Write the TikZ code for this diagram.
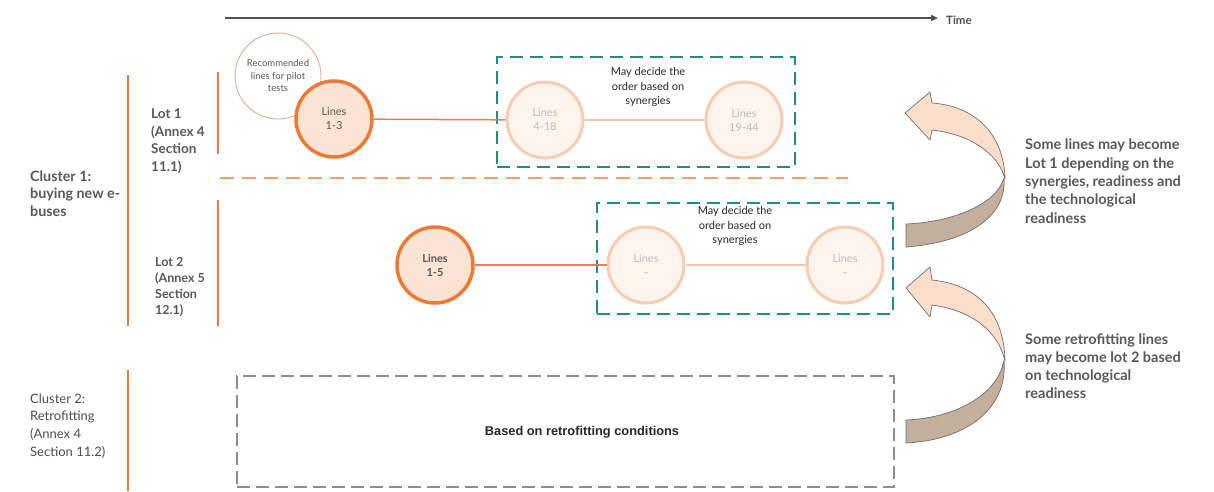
\documentclass[tikz,border=0pt]{standalone}
\usepackage{fontspec}
\setmainfont{Lato}
\newfontfamily\arialfont{Liberation Sans}
\usetikzlibrary{arrows.meta}

\definecolor{orangemain}{RGB}{236,122,54}
\definecolor{orangelink}{RGB}{234,124,86}
\definecolor{orangedash}{RGB}{240,158,108}
\definecolor{peachfill}{RGB}{251,228,212}
\definecolor{softstroke}{RGB}{246,204,178}
\definecolor{softfill}{RGB}{253,244,238}
\definecolor{softtext}{RGB}{188,188,188}
\definecolor{softlink}{RGB}{245,200,172}
\definecolor{recstroke}{RGB}{228,172,144}
\definecolor{tealdash}{RGB}{32,139,139}
\definecolor{greydash}{RGB}{140,140,140}
\definecolor{labelgrey}{RGB}{88,88,88}
\definecolor{axisgrey}{RGB}{80,80,80}
\definecolor{ribbonlight}{RGB}{250,222,202}
\definecolor{ribbondark}{RGB}{196,174,156}
\definecolor{ribbonedge}{RGB}{110,110,110}

\tikzset{
  sidelabel/.style={anchor=west, align=left, inner sep=0pt, text=labelgrey,
    font=\bfseries\fontsize{13.5}{17.5}\selectfont},
  bracketline/.style={draw=orangemain, line width=2.5pt},
  mainline/.style={circle, minimum size=76pt, inner sep=0pt, fill=peachfill,
    draw=orangemain, line width=3.5pt, text=labelgrey, align=center,
    font=\fontsize{11}{14}\selectfont},
  laterline/.style={circle, minimum size=76pt, inner sep=0pt, fill=softfill,
    draw=softstroke, line width=3pt, text=softtext, align=center,
    font=\fontsize{11}{14}\selectfont},
  pilotnote/.style={circle, minimum size=86pt, inner sep=0pt, fill=white,
    draw=recstroke, line width=0.9pt, text=labelgrey, align=center,
    font=\fontsize{9.5}{12.5}\selectfont},
  orderbox/.style={draw=tealdash, line width=2pt, dash pattern=on 13pt off 7pt,
    inner sep=0pt},
  retrobox/.style={draw=greydash, line width=1.2pt, dash pattern=on 13pt off 6pt,
    inner sep=0pt},
  ordernote/.style={align=center, inner sep=0pt, text=black!85,
    font=\fontsize{11}{14.5}\selectfont},
  firstlink/.style={draw=orangelink, line width=1.5pt},
  softlinkline/.style={draw=softlink, line width=1.5pt},
  ribbonup/.style={fill=ribbonlight, draw=ribbonedge, line width=0.7pt, line join=round},
  ribbondown/.style={fill=ribbondark, draw=ribbonedge, line width=0.7pt, line join=round},
  notetext/.style={anchor=north west, align=left, inner sep=0pt, text=labelgrey,
    font=\bfseries\fontsize{14.5}{18.3}\selectfont},
}

\begin{document}
\begin{tikzpicture}[x=1pt,y=-1pt]
\useasboundingbox[fill=white] (0,0) rectangle (1214,491);

% time axis
\node[anchor=west, inner sep=0pt, text=axisgrey, font=\bfseries\fontsize{11.5}{13}\selectfont] (time) at (946,20) {Time};
\coordinate (tstart) at (225,18);
\coordinate (tend) at (938,18);
\draw[axisgrey, line width=1.5pt, -{Triangle[length=7pt,width=6pt]}] (tstart) -- (tend);

% cluster and lot brackets
\coordinate (c1top) at (128,75);   \coordinate (c1bot) at (128,326);
\coordinate (l1top) at (218,72);   \coordinate (l1bot) at (218,154);
\coordinate (l2top) at (218,200);  \coordinate (l2bot) at (218,326);
\coordinate (c2top) at (128,370);  \coordinate (c2bot) at (128,491);
\draw[bracketline] (c1top) -- (c1bot);
\draw[bracketline] (l1top) -- (l1bot);
\draw[bracketline] (l2top) -- (l2bot);
\draw[bracketline] (c2top) -- (c2bot);

\node[sidelabel, font=\bfseries\fontsize{14.3}{17.5}\selectfont] (cl1) at (30,193.5) {Cluster 1:\\buying new e-\\buses};
\node[sidelabel] (lot1) at (151,141) {Lot 1\\(Annex 4\\Section\\11.1)};
\node[sidelabel, font=\bfseries\fontsize{12.5}{16}\selectfont] (lot2) at (155,287) {Lot 2\\(Annex 5\\Section\\12.1)};
\node[sidelabel, font=\fontsize{13}{17.8}\selectfont, text=black!70] (cl2) at (30,426) {Cluster 2:\\Retrofitting\\(Annex 4\\Section 11.2)};

% separator between the two lots
\coordinate (sepA) at (220,178);
\coordinate (sepB) at (848,178);
\draw[orangedash, line width=2pt, dash pattern=on 14pt off 8pt] (sepA) -- (sepB);

% lot 1 sequence
\node[orderbox, minimum width=298pt, minimum height=110pt] (box1) at (646,112) {};
\node[ordernote] (note1) at (648,87) {May decide the\\order based on\\synergies};
\node[pilotnote] (pilot) at (278,76) {Recommended\\lines for pilot\\tests};
\node[mainline] (l13) at (334,119) {Lines\\1-3};
\node[laterline] (l418) at (545,120) {Lines\\4-18};
\node[laterline] (l1944) at (744,120) {Lines\\19-44};
\draw[firstlink] (l13) -- (l418);
\draw[softlinkline] (l418) -- (l1944);

% lot 2 sequence
\node[orderbox, minimum width=296pt, minimum height=111pt] (box2) at (745,258.5) {};
\node[ordernote] (note2) at (735,226) {May decide the\\order based on\\synergies};
\node[mainline, font=\bfseries\fontsize{11}{14}\selectfont] (l15) at (435,265) {Lines\\1-5};
\node[laterline] (lx1) at (646,265) {Lines\\--};
\node[laterline] (lx2) at (845,265) {Lines\\--};
\draw[firstlink] (l15) -- (lx1);
\draw[softlinkline] (lx1) -- (lx2);

% retrofitting area
\node[retrobox, minimum width=657pt, minimum height=111pt] (box3) at (565.5,431.5) {};
\node[inner sep=0pt, font=\arialfont\bfseries\fontsize{12.8}{15}\selectfont, text=black!85] (retro) at (582,432) {Based on retrofitting conditions};

% twisted ribbon arrow towards lot 1
\filldraw[ribbondown] (1004,178) .. controls (996,205) and (952,222) .. (906,224)
  -- (906,247) .. controls (962,243) and (1007,220) .. (1004,178) -- cycle;
\filldraw[ribbonup] (1005,179) .. controls (1004,134) and (975,106) .. (932,103)
  -- (930,92) -- (905,113) -- (930,140) -- (932,130)
  .. controls (968,134) and (998,152) .. (1005,179) -- cycle;
\node[notetext] (note3) at (1025,139) {Some lines may become\\Lot 1 depending on the\\synergies, readiness and\\the technological\\readiness};

% twisted ribbon arrow towards lot 2
\filldraw[ribbondown] (1004,360) .. controls (998,395) and (955,418) .. (906,420)
  -- (906,443) .. controls (965,440) and (1008,410) .. (1004,360) -- cycle;
\filldraw[ribbonup] (1005,361) .. controls (1004,315) and (980,285) .. (932,280)
  -- (930,267) -- (906,288) -- (930,317) -- (932,305)
  .. controls (970,310) and (998,330) .. (1005,361) -- cycle;
\node[notetext] (note4) at (1025,333) {Some retrofitting lines\\may become lot 2 based\\on technological\\readiness};
\end{tikzpicture}
\end{document}
